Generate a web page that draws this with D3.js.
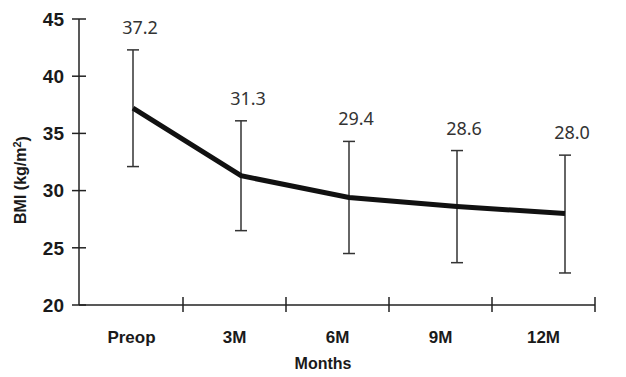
<!DOCTYPE html>
<html>
<head>
<meta charset="utf-8">
<script src="https://cdn.jsdelivr.net/npm/d3@7"></script>
<style>
  body { margin: 0; background: #fff; }
  svg { display: block; }
</style>
</head>
<body>
<svg id="chart" width="626" height="377"></svg>
<script>
// data
var categories = ["Preop", "3M", "6M", "9M", "12M"];
var meanBMI = [37.2, 31.3, 29.4, 28.6, 28.0];
var upperBMI = [42.3, 36.1, 34.3, 33.5, 33.1];
var lowerBMI = [32.1, 26.5, 24.5, 23.7, 22.8];
var yTicks = [20, 25, 30, 35, 40, 45];

function drawBmiChart()
{
    var svg = d3.select("#chart");
    var data = categories.map(function(c, i) {
        return {cat: c, mean: meanBMI[i], hi: upperBMI[i], lo: lowerBMI[i]};
    });

    var y = d3.scaleLinear().domain([20, 45]).range([305, 19]);
    // axis categories sit in bands, points are drawn slightly offset (as in the original)
    var xBand = d3.scaleBand().domain(categories).range([80, 595]);
    var xPt = d3.scalePoint().domain(categories).range([133, 565]);

    // y axis
    svg.append("line")
        .attr("x1", 79).attr("x2", 79)
        .attr("y1", y(45)).attr("y2", y(20))
        .style("stroke", "#222").style("stroke-width", "1.5px");
    svg.selectAll(".ytick").data(yTicks).enter().append("line")
        .attr("x1", 72).attr("x2", 86)
        .attr("y1", function(d) { return y(d); })
        .attr("y2", function(d) { return y(d); })
        .style("stroke", "#222").style("stroke-width", "1.5px");
    svg.selectAll(".ylab").data(yTicks).enter().append("text")
        .attr("x", 64)
        .attr("y", function(d) { return y(d); })
        .attr("dy", "0.36em")
        .attr("text-anchor", "end")
        .style("font-family", "Liberation Sans, Arial, sans-serif")
        .style("font-weight", "bold")
        .style("font-size", "19px")
        .style("fill", "#1a1a1a")
        .text(function(d) { return d; });

    // x axis
    svg.append("line")
        .attr("x1", 79).attr("x2", 595)
        .attr("y1", y(20)).attr("y2", y(20))
        .style("stroke", "#222").style("stroke-width", "1.5px");
    svg.selectAll(".xtick").data(categories.slice(1).concat(["end"])).enter().append("line")
        .attr("x1", function(d) { return d === "end" ? 595 : xBand(d); })
        .attr("x2", function(d) { return d === "end" ? 595 : xBand(d); })
        .attr("y1", y(20) - 8).attr("y2", y(20) + 7)
        .style("stroke", "#222").style("stroke-width", "1.5px");
    svg.selectAll(".xlab").data(categories).enter().append("text")
        .attr("x", function(d) { return xBand(d) + xBand.bandwidth() / 2; })
        .attr("y", 343)
        .attr("text-anchor", "middle")
        .style("font-family", "Liberation Sans, Arial, sans-serif")
        .style("font-weight", "bold")
        .style("font-size", "17px")
        .style("fill", "#1a1a1a")
        .text(function(d) { return d; });

    // axis titles
    svg.append("text")
        .attr("x", 323).attr("y", 369)
        .attr("text-anchor", "middle")
        .style("font-family", "Liberation Sans, Arial, sans-serif")
        .style("font-weight", "bold")
        .style("font-size", "16px")
        .style("fill", "#1a1a1a")
        .text("Months");
    var yt = svg.append("text")
        .attr("transform", "translate(26,180) rotate(-90)")
        .attr("text-anchor", "middle")
        .style("font-family", "Liberation Sans, Arial, sans-serif")
        .style("font-weight", "bold")
        .style("font-size", "16px")
        .style("fill", "#1a1a1a");
    yt.append("tspan").text("BMI (kg/m");
    yt.append("tspan").attr("dy", "-0.45em").style("font-size", "11px").text("2");
    yt.append("tspan").attr("dy", "0.45em").text(")");

    // error bars
    var eb = svg.selectAll(".eb").data(data).enter().append("g");
    eb.append("line")
        .attr("x1", function(d) { return xPt(d.cat); })
        .attr("x2", function(d) { return xPt(d.cat); })
        .attr("y1", function(d) { return y(d.hi); })
        .attr("y2", function(d) { return y(d.lo); })
        .style("stroke", "#333").style("stroke-width", "1.5px");
    eb.selectAll(".cap").data(function(d) { return [{cat: d.cat, v: d.hi}, {cat: d.cat, v: d.lo}]; })
        .enter().append("line")
        .attr("x1", function(d) { return xPt(d.cat) - 6; })
        .attr("x2", function(d) { return xPt(d.cat) + 6; })
        .attr("y1", function(d) { return y(d.v); })
        .attr("y2", function(d) { return y(d.v); })
        .style("stroke", "#333").style("stroke-width", "1.5px");

    // mean line
    var line = d3.line()
        .x(function(d) { return xPt(d.cat); })
        .y(function(d) { return y(d.mean); });
    svg.append("path")
        .datum(data)
        .attr("d", line)
        .style("fill", "none")
        .style("stroke", "#111")
        .style("stroke-width", "5px");

    // value labels
    svg.selectAll(".val").data(data).enter().append("text")
        .attr("x", function(d) { return xPt(d.cat) + 7; })
        .attr("y", function(d) { return y(d.hi) - 16; })
        .attr("text-anchor", "middle")
        .style("font-family", "Noto Sans, Open Sans, sans-serif")
        .style("font-size", "18px")
        .style("fill", "#333")
        .text(function(d) { return d.mean.toFixed(1); });
}

drawBmiChart();
</script>
</body>
</html>
